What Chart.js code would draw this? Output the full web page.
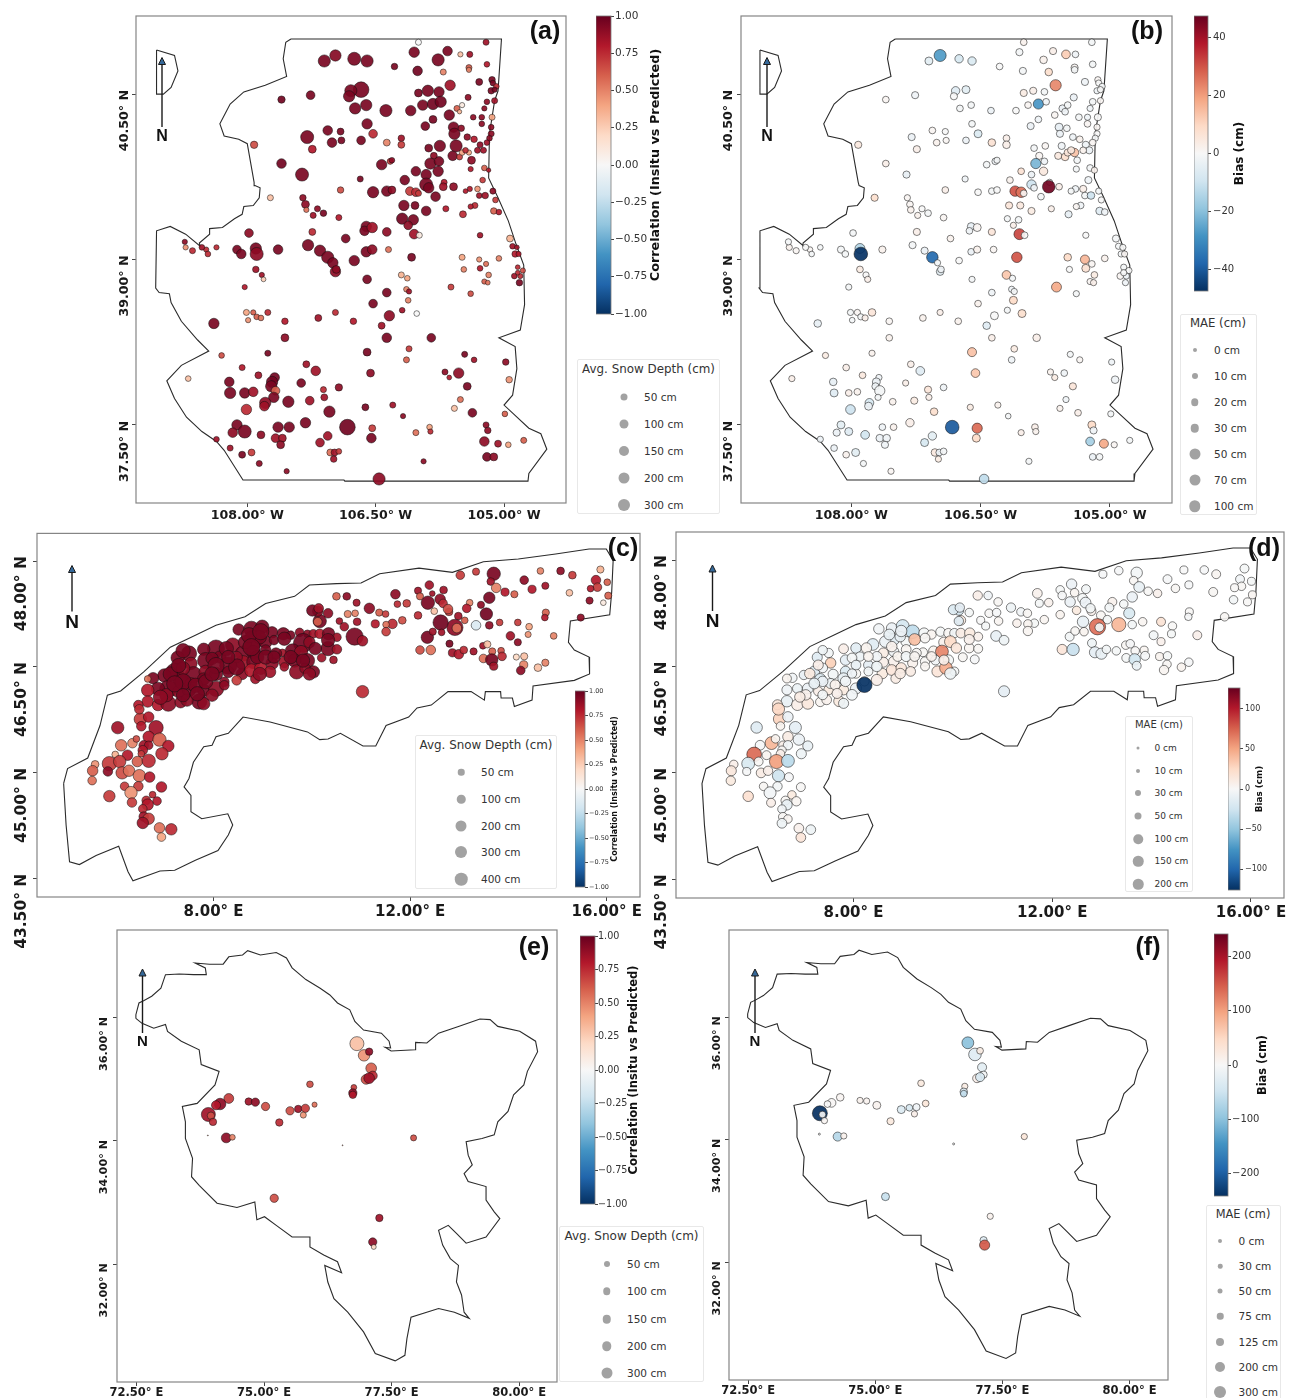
<!DOCTYPE html>
<html>
<head>
<meta charset="utf-8">
<script src="https://cdn.jsdelivr.net/npm/chart.js@4"></script>
<style>
html,body{margin:0;padding:0;background:#fff;}
#page{position:relative;width:1290px;height:1398px;overflow:hidden;font-family:"DejaVu Sans",sans-serif;}
#page canvas{position:absolute;}
.lg{position:absolute;background:#fff;border:1px solid #e8e8e8;border-radius:2px;box-sizing:border-box;}
.lgt{position:absolute;white-space:nowrap;color:#333;transform:translate(-50%,-50%);}
.lgl{position:absolute;white-space:nowrap;color:#333;transform:translateY(-50%);}
.lgm{position:absolute;border-radius:50%;background:#a2a2a2;transform:translate(-50%,-50%);}
</style>
</head>
<body>
<div id="page"></div>
<script>
// stations: lon, lat, avg snow depth (cm), correlation, MAE (cm), bias (cm)
const coloradoStations = [
[-106.00,40.97,40,0,10,2],[-105.21,40.97,40,.85,10,-1],[-106.97,40.85,139,.92,45,-27],[-107.10,40.80,161,.95,16,-5],[-106.75,40.82,185,.95,18,-8],[-106.60,40.80,161,.95,18,-7],
[-106.28,40.75,46,.95,10,0],[-106.05,40.88,118,.95,12,-1],[-106.01,40.71,100,.97,12,-1],[-105.66,40.89,100,.95,12,3],[-105.77,40.81,161,.95,14,2],[-105.51,40.86,30,.3,20,12],
[-105.40,40.86,40,.85,10,-2],[-105.20,40.77,35,.8,10,-1],[-105.41,40.74,40,.6,12,1],[-105.41,40.72,30,.5,10,-1],[-105.71,40.70,40,.5,14,8],[-105.63,40.58,118,.85,38,23],
[-105.29,40.61,52,.95,12,-2],[-105.14,40.63,46,.95,8,1],[-105.13,40.60,35,.95,8,0],[-105.09,40.57,35,.75,8,-1],[-105.15,40.53,46,.95,8,-2],[-105.11,40.54,30,.95,8,0],
[-105.11,40.44,40,.85,8,1],[-105.20,40.43,35,.9,10,-1],[-105.42,40.47,40,.9,12,-3],[-105.89,40.53,139,.95,12,3],[-106.00,40.51,67,.95,12,4],[-105.76,40.52,118,.95,10,-1],
[-106.67,40.54,266,.95,16,-5],[-106.79,40.53,161,.95,18,-6],[-106.81,40.48,139,.95,12,0],[-107.26,40.49,82,.95,12,-2],[-107.60,40.45,59,.97,10,1],[-106.74,40.37,139,.95,10,-1],
[-106.61,40.40,139,.95,10,-1],[-106.38,40.35,161,.95,10,-3],[-106.09,40.35,118,.95,10,0],[-105.95,40.40,118,.95,10,1],[-105.83,40.41,139,.97,30,-28],[-105.74,40.43,139,.97,10,-2],
[-105.64,40.31,118,.95,10,1],[-105.83,40.27,67,.95,10,-2],[-106.60,40.23,118,.95,10,-1],[-105.92,40.21,82,.95,12,-3],[-105.59,40.20,118,.95,16,-4],[-105.50,40.19,46,.9,10,-1],
[-105.58,40.14,139,.95,12,-3],[-107.30,40.11,185,.95,12,-3],[-107.06,40.17,100,.95,10,1],[-106.91,40.16,52,.95,8,0],[-107.01,40.06,100,.95,10,2],[-106.90,40.08,52,.95,8,1],
[-106.67,40.08,82,.95,10,-3],[-106.53,40.14,82,.75,16,-7],[-106.37,40.06,52,.5,14,7],[-106.20,40.10,46,.85,10,3],[-106.20,40.04,52,.7,14,3],[-107.92,40.04,59,.65,12,5],
[-107.24,40.00,67,.8,12,3],[-105.88,40.01,67,.95,10,-1],[-105.75,40.03,139,.95,10,1],[-105.56,40.03,161,.95,12,-2],[-105.43,40.11,46,.9,10,-2],[-105.35,40.09,46,.8,10,2],
[-105.28,40.04,40,.9,12,-2],[-105.15,40.14,40,.9,8,0],[-105.17,40.10,35,.9,8,-1],[-105.20,40.06,35,.85,10,1],[-105.24,39.99,40,.85,12,-3],[-105.26,40.29,35,.9,8,-2],
[-105.36,40.29,35,.9,10,-1],[-105.26,40.23,35,.9,10,1],[-105.55,40.37,40,.6,12,-3],[-105.49,40.40,30,.1,10,-1],[-105.52,40.34,21,.35,10,-2],[-105.14,40.29,40,.4,12,0],
[-105.23,40.37,30,.9,8,-2],[-105.15,40.20,35,.9,8,1],[-105.60,39.94,100,.95,12,5],[-105.52,39.93,40,.7,14,8],[-105.49,39.97,35,.4,12,6],[-105.41,39.97,30,.4,18,14],
[-105.45,39.99,35,.75,12,5],[-105.31,39.99,40,.85,10,2],[-105.38,39.90,67,.9,10,-1],[-107.60,39.87,100,.97,10,3],[-106.43,39.86,118,.95,10,-1],[-106.33,39.89,40,.7,10,-2],
[-106.31,39.90,35,.9,8,-1],[-105.82,39.94,52,.9,12,1],[-105.86,39.87,139,.95,30,-22],[-105.76,39.89,100,.95,10,-2],[-107.36,39.77,185,.95,12,-4],[-105.77,39.80,118,.95,18,5],
[-106.03,39.80,100,.95,10,7],[-105.91,39.77,118,.95,10,-3],[-105.39,39.82,30,.8,8,-1],[-105.23,39.83,35,.6,10,-1],[-105.18,39.81,21,.8,8,2],[-106.68,39.73,40,.95,8,-2],
[-106.16,39.72,100,.95,10,2],[-105.91,39.68,185,.95,24,-10],[-105.88,39.65,118,.95,10,-2],[-105.70,39.70,40,.8,8,1],[-105.71,39.66,67,.85,50,46],[-105.59,39.66,67,.9,10,3],
[-105.25,39.72,35,.7,12,-2],[-105.31,39.64,35,.45,12,3],[-105.40,39.64,30,.8,10,-2],[-105.45,39.62,25,.8,8,-1],[-105.13,39.62,40,.9,8,-1],[-105.29,39.58,35,.85,10,-1],
[-105.22,39.58,46,.85,14,-10],[-105.10,39.54,35,.7,8,0],[-105.34,39.49,40,.75,10,-2],[-105.39,39.48,30,.8,8,1],[-105.12,39.44,46,.6,14,-6],[-105.06,39.43,35,.8,10,-2],
[-105.48,39.41,52,.75,12,-4],[-105.68,39.46,40,.8,8,3],[-105.91,39.44,100,.95,12,4],[-106.17,39.49,118,.95,12,6],[-106.04,39.49,67,.95,12,5],[-105.80,39.57,100,.95,10,-1],
[-106.10,39.62,82,.7,32,30],[-106.03,39.61,82,.75,32,26],[-106.00,39.60,40,.7,10,1],[-106.53,39.61,139,.95,10,0],[-106.37,39.62,118,.95,10,-1],[-106.31,39.63,67,.9,10,0],
[-106.91,39.63,46,.65,10,3],[-107.73,39.56,40,.3,12,8],[-107.35,39.56,46,.9,8,1],[-107.32,39.50,67,.9,10,1],[-107.31,39.45,30,.55,10,2],[-107.18,39.46,40,.9,8,0],
[-107.11,39.42,46,.95,10,-1],[-107.23,39.40,40,.85,8,2],[-106.93,39.38,40,.8,10,1],[-106.61,39.30,118,.95,14,-4],[-106.63,39.26,100,.95,10,-2],[-106.54,39.29,118,.85,16,1],
[-106.19,39.37,139,.97,8,-1],[-106.06,39.36,118,.95,10,-1],[-106.12,39.31,82,.9,8,3],[-106.37,39.25,82,.9,12,6],[-106.05,39.23,100,.85,36,32],[-105.99,39.22,40,.1,10,0],
[-105.28,39.22,35,.85,8,0],[-104.93,39.19,52,.35,12,-1],[-104.90,39.12,35,.85,8,-1],[-104.85,39.11,25,.85,8,0],[-104.87,39.05,46,.8,8,-1],[-104.83,39.05,30,.8,8,1],
[-107.98,39.24,82,.9,10,-1],[-107.24,39.25,52,.75,12,3],[-106.85,39.19,82,.95,10,2],[-107.29,39.13,139,.95,12,-1],[-107.15,39.08,139,.95,12,-3],[-107.06,39.02,161,.95,40,-37],
[-107.00,38.97,118,.95,8,-1],[-106.97,38.89,118,.9,14,-5],[-106.96,38.91,67,.9,10,-2],[-106.75,38.99,118,.95,10,0],[-106.61,39.07,118,.95,10,-3],[-106.54,39.09,100,.9,12,2],
[-106.35,39.09,40,.55,10,1],[-106.08,39.02,67,.95,32,30],[-105.49,39.02,40,.4,14,9],[-105.29,39.00,30,.45,22,16],[-105.21,38.96,30,.55,10,1],[-105.06,39.01,35,.5,10,2],
[-105.47,38.91,35,.5,8,0],[-105.28,38.92,35,.8,16,7],[-105.18,38.86,35,.5,10,4],[-105.23,38.80,30,.6,8,1],[-105.19,38.79,25,.55,8,3],[-104.84,38.93,25,.75,8,-1],
[-104.78,38.90,30,.65,8,0],[-104.88,38.85,35,.85,10,1],[-104.81,38.85,30,.75,8,-2],[-104.82,38.79,46,.95,8,-2],[-104.84,38.88,25,.75,8,0],[-105.62,38.75,40,.7,28,18],
[-105.39,38.69,35,.65,8,-1],[-107.90,39.10,139,.95,28,-14],[-107.89,39.05,185,.9,60,-47],[-108.12,39.09,82,.95,12,-1],[-108.07,39.05,100,.95,10,-1],[-107.64,39.09,100,.95,12,2],
[-108.36,39.11,30,.75,6,-1],[-108.48,39.09,30,.75,6,1],[-108.46,39.05,35,.75,6,-1],[-108.53,39.11,35,.85,8,0],[-108.64,39.08,40,.75,8,1],[-108.72,39.11,30,.45,8,2],
[-108.73,39.16,30,.9,8,-1],[-107.90,38.91,46,.85,10,4],[-107.83,38.86,30,.85,8,0],[-107.81,38.82,25,.25,8,3],[-108.03,38.75,30,.8,8,-1],[-106.60,38.82,82,.95,8,-1],
[-106.37,38.70,82,.95,10,-2],[-106.20,38.86,40,.35,20,13],[-106.13,38.83,35,.4,8,-1],[-106.14,38.73,35,.5,8,-2],[-106.11,38.71,30,.85,8,-1],[-106.12,38.63,35,.5,16,9],
[-106.53,38.60,82,.95,10,2],[-106.02,38.51,35,0,16,8],[-106.19,38.54,35,.85,8,-1],[-106.34,38.49,118,.9,16,0],[-106.43,38.40,52,.85,14,-6],[-106.37,38.29,100,.95,10,3],
[-105.85,38.29,82,.95,14,3],[-106.97,38.52,40,.75,8,3],[-106.76,38.44,46,.8,10,2],[-107.17,38.47,52,.85,10,2],[-107.76,38.52,40,.75,14,6],[-108.01,38.52,40,.4,8,-1],
[-107.93,38.52,30,.6,8,1],[-107.89,38.48,35,.6,8,-1],[-107.84,38.47,35,.55,8,3],[-107.99,38.45,30,.45,6,-1],[-107.56,38.44,46,.8,10,1],[-107.56,38.29,67,.9,10,2],
[-108.39,38.42,118,.95,14,-4],[-107.76,38.15,40,.95,8,2],[-108.30,38.13,35,.65,8,4],[-106.60,38.16,67,.95,22,14],[-106.11,38.19,40,.7,10,4],[-106.14,38.09,40,.6,10,-2],
[-105.46,38.14,40,.95,8,-1],[-105.35,38.09,35,.85,8,1],[-104.98,38.07,46,.9,8,-2],[-107.31,38.05,52,.85,10,3],[-108.06,38.02,40,.8,10,3],[-107.20,37.99,100,.85,20,-6],
[-106.56,37.97,67,.9,20,13],[-105.69,37.98,40,.9,8,2],[-105.53,37.97,118,.9,10,-2],[-105.64,37.93,25,.8,8,4],[-107.87,37.95,52,.85,10,5],[-107.68,37.93,100,.97,8,-2],
[-107.71,37.89,139,.97,16,-3],[-107.72,37.85,139,.95,12,-2],[-108.21,37.89,100,.95,14,-4],[-107.37,37.88,82,.95,8,3],[-104.94,37.91,46,.45,14,-2],[-105.43,37.85,67,.95,12,6],
[-106.93,37.84,59,.9,10,-2],[-107.11,37.82,40,.75,12,6],[-107.67,37.81,82,.6,30,-1],[-108.20,37.79,139,.95,16,-6],[-108.03,37.79,118,.95,10,3],[-107.93,37.80,100,.85,10,2],
[-107.69,37.75,118,.95,8,-1],[-107.79,37.70,139,.9,20,-8],[-107.80,37.67,100,.85,16,-3],[-107.52,37.71,139,.95,10,2],[-107.27,37.72,82,.85,12,4],[-107.10,37.75,52,.85,8,3],
[-105.51,37.73,40,.55,8,-2],[-105.58,37.65,40,.3,8,2],[-105.37,37.61,82,.95,10,3],[-104.99,37.60,35,.6,8,-1],[-108.01,37.64,118,.75,26,-10],[-107.04,37.62,139,.95,14,8],
[-106.62,37.66,52,.95,8,4],[-106.30,37.68,40,.85,8,2],[-106.18,37.58,30,.9,6,-1],[-108.12,37.50,118,.95,16,-5],[-108.17,37.43,100,.9,12,-3],[-108.03,37.44,185,.95,16,-6],
[-107.84,37.41,67,.9,20,-9],[-107.64,37.48,118,.95,10,-2],[-107.51,37.48,118,.95,10,2],[-107.32,37.52,118,.95,18,3],[-106.83,37.48,266,.97,60,-40],[-106.54,37.47,52,.7,30,27],
[-106.55,37.38,100,.95,16,9],[-107.06,37.40,82,.85,18,-5],[-107.15,37.34,82,.85,16,-8],[-107.67,37.38,82,.85,14,-3],[-107.59,37.38,67,.85,14,-2],[-107.61,37.32,67,.9,12,-2],
[-108.36,37.37,35,.85,8,-3],[-108.20,37.29,40,.85,10,-3],[-108.06,37.23,52,.95,10,2],[-107.95,37.25,52,.7,16,-5],[-107.86,37.15,40,.9,8,-1],[-107.54,37.08,30,.9,8,1],
[-106.03,37.43,40,.55,8,3],[-105.87,37.48,35,.4,10,3],[-105.86,37.44,30,.75,8,2],[-105.94,37.17,30,.9,8,-1],[-107.03,37.25,52,.55,14,5],[-106.98,37.25,52,.85,10,-3],
[-106.93,37.26,35,.7,10,-1],[-106.99,37.19,46,.85,8,4],[-106.46,37.01,161,.9,25,-12],[-105.21,37.50,40,.9,16,9],[-105.19,37.45,46,.9,12,-2],[-105.23,37.35,100,.9,20,-16],
[-105.07,37.33,52,.85,22,18],[-104.95,37.32,35,.4,8,1],[-104.77,37.36,40,.6,8,-1],[-105.20,37.21,82,.95,10,-3],[-105.12,37.21,67,.9,10,-1],[-108.69,37.92,35,.3,8,3]
];
const alpsStations = [
[13.70,47.82,166,.95,30,-3],[13.34,47.85,48,.7,14,-1],[13.02,47.80,69,.7,12,-1],[13.64,47.71,55,.85,14,2],[13.75,47.62,85,.5,26,-10],[13.93,47.56,62,.8,14,1],
[14.12,47.53,48,.6,14,6],[14.32,47.73,69,.9,16,-1],[14.48,47.60,62,.8,14,2],[14.65,47.86,42,.5,12,0],[14.75,47.65,48,.85,12,-1],[15.06,47.86,55,.9,14,-1],
[15.30,47.80,55,.7,16,3],[15.87,47.88,48,.35,16,-2],[15.78,47.73,85,.8,16,-4],[15.81,47.63,69,.7,14,2],[16.01,47.70,42,.6,12,-2],[15.67,47.61,42,.8,12,1],
[16.03,47.51,48,.6,12,3],[15.65,47.44,48,.9,14,-3],[15.93,47.41,30,.1,12,1],[15.24,47.55,42,.3,16,2],[15.47,47.20,48,.9,14,2],[14.76,47.27,48,.6,12,1],
[14.74,47.20,42,.8,10,-1],[14.42,47.07,42,.4,14,1],[14.19,47.13,42,.7,16,18],[14.40,46.96,35,.45,12,-2],[14.92,46.94,42,.5,16,7],[14.04,46.94,69,.85,16,-3],
[14.19,46.85,48,.9,12,6],[13.61,47.48,122,.95,24,-8],[13.44,47.38,48,.9,14,-2],[13.55,47.25,143,.97,28,-20],[13.61,47.09,55,.9,14,-3],[13.82,47.13,42,.7,14,3],
[13.21,47.41,42,.5,16,5],[13.15,47.33,69,.8,16,-3],[12.98,47.22,55,.85,16,2],[13.11,47.16,42,.6,14,-2],[13.34,47.09,85,-.15,50,42],[12.91,47.06,245,.9,70,70],
[12.95,47.05,85,.55,16,-3],[12.79,47.28,55,.7,16,6],[12.62,47.13,217,.97,30,-10],[12.36,47.41,166,.95,24,-8],[12.49,47.29,42,.3,14,12],[12.61,47.46,103,.9,20,-2],
[12.67,47.40,69,.75,26,-8],[12.77,47.32,85,.65,18,-3],[12.39,47.66,69,.85,24,-8],[12.16,47.58,48,.85,14,-2],[12.45,47.54,30,.85,14,3],[12.68,47.59,55,.85,16,-3],
[12.20,47.50,48,.6,14,-1],[11.70,47.53,85,.9,20,5],[11.74,47.39,42,.75,12,-2],[11.93,47.40,55,.7,14,5],[12.16,47.23,55,.75,14,4],[11.84,47.16,55,.65,14,3],
[11.64,47.11,85,.75,14,-2],[11.51,47.10,42,.55,14,4],[11.51,47.00,69,.7,18,3],[11.29,47.11,62,.8,14,5],[11.37,47.27,48,.6,14,-4],[11.50,47.25,42,.7,14,2],
[11.17,47.33,103,.9,18,-6],[10.91,47.41,48,.85,14,2],[10.71,47.50,55,.9,14,-5],[10.50,47.50,55,.6,18,8],[10.73,47.25,48,.5,14,1],[10.88,47.26,42,.5,14,-1],
[10.92,47.14,55,.85,14,3],[10.56,47.15,42,.85,12,0],[10.66,47.07,69,.85,12,-2],[10.87,46.93,275,.95,26,-10],[11.03,46.87,103,.85,20,-6],[11.03,46.15,143,.75,28,-12],
[12.35,46.92,143,.95,16,-3],[12.20,46.74,69,.65,22,16],[12.42,46.74,85,.55,36,-28],[12.46,47.00,48,.85,14,2],[12.64,46.99,42,.85,14,4],[12.80,46.83,48,.95,16,-6],
[12.86,46.70,62,.85,28,-12],[12.99,46.68,85,.8,28,-10],[13.09,46.74,55,.75,14,-3],[13.29,46.72,48,.85,14,-2],[13.48,46.80,42,.85,14,2],[13.57,46.82,48,.3,14,-1],
[13.67,46.72,48,.6,14,1],[13.49,46.62,69,.55,16,-2],[13.66,46.60,143,.95,30,-24],[13.85,46.73,42,.65,12,3],[13.87,46.65,69,.75,16,-1],[13.70,46.51,62,.85,16,-9],
[14.16,46.64,35,.2,12,4],[14.32,46.65,48,.3,14,-2],[14.31,46.53,62,.5,14,2],[14.25,46.45,69,.9,18,3],[14.60,46.49,55,.3,14,4],[14.75,46.56,48,.5,14,-1],
[8.51,47.03,122,.95,24,-4],[8.77,47.04,217,.95,26,-8],[8.99,47.07,166,.95,40,-22],[9.19,46.99,122,.95,46,-32],[9.42,46.97,143,.95,24,-2],[9.57,46.95,69,.95,18,3],
[9.75,46.99,69,.9,18,-2],[9.91,46.97,55,.9,18,2],[10.03,46.97,69,.85,18,-3],[10.16,46.97,85,.8,20,10],[10.34,46.97,143,.95,24,12],[10.51,46.92,69,.85,16,5],
[10.16,47.15,166,.95,20,12],[10.12,47.29,103,.9,20,-22],[10.01,47.30,122,.95,22,-18],[10.14,47.33,85,.85,18,-12],[10.33,47.26,85,.9,14,-2],[10.12,47.14,69,.6,18,-16],
[8.81,46.88,340,.95,30,-14],[9.06,46.85,143,.95,24,-2],[9.23,46.88,85,.95,32,38],[9.44,46.90,166,.95,20,2],[9.82,46.84,340,.97,24,5],[9.95,46.85,122,.9,32,24],
[10.33,46.76,191,.95,20,3],[10.51,46.75,85,.85,16,2],[8.39,46.81,191,.9,32,-16],[8.05,46.76,275,.95,24,-14],[7.80,46.75,143,.95,20,8],[8.60,46.69,217,.95,22,10],
[8.81,46.71,166,.95,22,-4],[9.06,46.74,103,.95,20,3],[9.61,46.72,217,.97,20,4],[9.78,46.71,166,.9,40,62],[10.07,46.76,143,.95,24,15],[9.40,46.70,55,.85,16,2],
[7.50,46.69,217,.95,18,-3],[7.27,46.63,166,.95,22,-16],[7.84,46.59,245,.95,24,-12],[7.54,46.55,143,.9,24,30],[8.13,46.64,143,.95,18,-6],[8.60,46.56,191,.85,22,8],
[8.30,46.52,275,.95,20,-12],[8.81,46.57,166,.95,24,6],[9.19,46.55,143,.9,22,5],[9.44,46.57,122,.85,18,2],[9.65,46.59,166,.95,20,-4],[9.91,46.59,191,.95,24,-2],
[10.20,46.63,69,.85,16,2],[10.44,46.60,55,.85,16,-1],[7.21,46.43,275,.95,26,-16],[7.00,46.38,166,.95,18,-10],[7.59,46.39,245,.95,22,-3],[7.84,46.43,166,.9,24,-18],
[8.05,46.40,166,.95,18,2],[8.30,46.43,122,.95,16,-3],[8.58,46.40,122,.9,24,12],[8.77,46.45,166,.8,26,16],[8.96,46.48,143,.8,24,14],[9.15,46.43,122,.85,20,10],
[9.44,46.50,69,.85,16,3],[9.69,46.43,191,.9,28,16],[10.03,46.43,143,.95,16,-2],[9.86,46.48,103,.9,38,46],[6.77,46.34,122,.95,18,-4],[6.66,46.33,42,.55,16,4],
[7.33,46.32,217,.95,30,-18],[7.08,46.19,275,.95,26,-8],[6.87,46.19,166,.95,20,-7],[6.66,46.17,143,.8,22,-5],[7.29,46.15,143,.9,18,8],[7.50,46.17,166,.95,20,12],
[7.80,46.17,143,.95,22,12],[8.05,46.19,217,.9,28,-8],[8.22,46.29,85,.9,18,-2],[8.47,46.31,85,.7,28,8],[8.85,46.33,85,.85,20,10],[6.66,46.01,122,.8,30,-10],
[6.87,45.96,122,.8,30,8],[7.08,45.98,217,.9,32,14],[7.33,46.00,122,.9,18,3],[7.71,46.01,217,.95,26,12],[7.46,46.03,143,.9,20,5],[7.80,45.98,143,.9,22,-6],
[7.97,46.10,143,.9,26,-4],[6.47,45.96,85,.8,22,14],[6.51,45.76,143,.7,35,28],[6.68,45.79,103,.8,24,-8],[6.49,45.90,85,.75,35,26],[6.53,45.66,85,.8,14,4],
[8.22,46.24,85,.9,60,-125],[8.94,46.92,166,.95,24,-10],[8.64,46.85,166,.95,30,-8],[9.27,46.69,122,.95,18,2],[8.89,46.64,166,.95,20,4],[8.47,46.64,122,.9,22,-4],
[7.97,46.62,143,.95,20,-2],[7.38,46.48,166,.9,20,-4],[7.80,46.33,143,.95,30,-10],[7.12,46.40,191,.95,24,12],[7.04,46.10,166,.9,24,6],[7.54,46.26,143,.9,22,-5],
[7.38,46.73,191,.95,18,-6],[8.26,46.76,191,.95,24,4],[8.72,46.95,217,.95,26,-10],[8.96,47.00,245,.95,30,-8],[8.77,46.78,275,.95,24,5],[9.06,46.64,191,.95,22,-3],
[9.57,46.64,166,.95,20,5],[9.82,46.59,166,.95,22,8],[10.33,46.88,166,.95,22,6],[8.47,46.50,245,.95,24,-6],[8.05,46.52,245,.95,20,-10],[7.38,46.29,245,.95,24,-8],
[7.63,46.24,191,.95,22,5],[7.84,46.29,191,.95,24,-4],[7.21,46.26,245,.95,26,-10],[6.92,46.07,191,.9,24,10],[7.38,46.10,166,.95,20,-3],[7.67,46.12,191,.95,22,7],
[7.97,46.40,191,.95,18,-5],[8.30,46.64,166,.95,20,4],[9.23,46.64,143,.95,20,3],[8.94,46.40,166,.9,24,10],[9.95,46.40,143,.9,30,-6],[7.29,46.52,191,.95,22,8],
[6.05,45.64,143,.85,30,-16],[6.83,45.64,191,.85,34,-12],[6.68,45.51,122,.8,24,10],[6.90,45.47,166,.6,30,-8],[7.08,45.38,122,.8,22,-10],[6.35,45.42,85,.5,40,42],
[6.12,45.39,122,.55,20,-1],[6.58,45.39,85,.85,14,8],[6.68,45.39,69,.85,18,-4],[6.43,45.48,42,.65,14,4],[6.56,45.32,85,.8,14,2],[6.95,45.27,143,.75,22,-6],
[6.25,45.25,103,.8,16,4],[6.00,45.26,42,.35,55,72],[6.53,45.27,42,.7,14,8],[5.88,45.13,191,.7,40,-20],[6.09,45.16,143,.7,16,2],[6.45,45.16,103,.6,50,52],
[6.68,45.17,166,.75,40,-34],[5.85,45.02,85,.9,12,-1],[5.59,45.12,55,.45,14,8],[5.54,45.03,103,.6,22,14],[6.14,45.00,143,.65,20,10],[6.28,45.03,122,.55,18,8],
[6.49,44.96,143,.55,35,-26],[6.70,44.94,103,.8,16,-1],[5.53,44.89,69,.55,18,12],[6.19,44.81,69,.7,14,2],[6.47,44.81,85,.7,18,-3],[6.94,44.80,103,.8,16,1],
[6.32,44.72,143,.45,34,-4],[5.88,44.67,122,.7,24,20],[6.76,44.69,42,.75,14,12],[6.85,44.60,69,.8,18,3],[6.63,44.61,69,.75,16,2],[6.66,44.55,122,.8,24,-10],
[6.34,44.58,85,.7,16,8],[6.56,44.49,69,.75,14,-4],[6.58,44.38,85,.85,16,2],[6.68,44.35,122,.7,14,3],[6.56,44.29,122,.85,20,-6],[6.90,44.22,103,.55,20,6],
[7.14,44.20,122,.75,20,-6],[6.94,44.09,69,.4,20,16]
];
const kashmirStations = [
[76.82,35.58,223,.3,43,-100],[76.96,35.39,150,.45,50,-30],[77.06,35.45,62,.9,10,20],[77.10,35.18,130,.6,22,-25],[77.13,35.06,94,.75,12,-5],[77.00,35.00,110,.65,20,15],
[77.06,35.02,130,.85,22,-40],[75.90,34.92,50,.65,10,25],[76.76,34.87,38,.7,8,20],[76.74,34.78,78,.9,14,-30],[76.74,34.75,62,.8,10,-60],[74.31,34.69,110,.7,14,5],
[74.14,34.60,150,.9,20,3],[74.06,34.58,94,.8,10,0],[74.70,34.64,62,.85,8,10],[74.83,34.63,78,.9,8,8],[75.03,34.56,78,.65,16,8],[75.51,34.49,78,.65,16,-35],
[75.67,34.52,62,.85,10,-40],[75.81,34.53,78,.7,12,-10],[75.99,34.59,30,.55,10,30],[75.77,34.42,42,.45,8,15],[73.91,34.43,223,.85,75,-242],[73.96,34.41,62,.65,10,-5],
[74.00,34.31,62,.75,8,5],[75.30,34.30,62,.75,12,25],[74.26,34.05,110,.9,22,-70],[74.38,34.06,38,.5,8,10],[77.93,34.05,42,.65,8,30],[75.20,33.07,78,.65,16,-55],
[77.26,32.75,62,.85,8,10],[77.13,32.36,78,.9,12,-30],[77.15,32.28,28,.2,30,150],[73.90,34.09,1,.5,0,0],[76.54,33.93,1,.5,0,0]
];

const coloradoIsland = [[-109.06,40.90],[-108.85,40.85],[-108.81,40.71],[-108.89,40.56],[-108.98,40.50],[-109.06,40.50],[-109.06,40.90]];
const coloradoBorder = [[-107.49,41.00],[-105.03,41.00],[-105.07,40.53],[-105.11,40.44],[-105.17,40.14],[-105.18,39.74],[-105.07,39.56],[-104.95,39.35],[-104.86,39.14],[-104.77,38.95],[-104.76,38.59],[-104.81,38.36],[-105.06,38.29],[-104.87,38.21],[-104.85,38.01],[-104.90,37.77],[-105.00,37.68],[-104.71,37.47],[-104.57,37.42],[-104.50,37.28],[-104.71,37.06],[-104.72,36.99],[-106.86,36.99],[-106.87,37.00],[-108.05,37.00],[-108.27,37.27],[-108.36,37.35],[-108.53,37.44],[-108.71,37.57],[-108.85,37.74],[-108.94,37.90],[-108.77,38.04],[-108.45,38.17],[-108.58,38.27],[-108.77,38.44],[-108.89,38.61],[-108.91,38.69],[-109.03,38.70],[-109.07,38.74],[-109.06,39.26],[-108.90,39.30],[-108.72,39.23],[-108.55,39.12],[-108.56,39.15],[-108.44,39.23],[-108.44,39.28],[-108.29,39.29],[-108.15,39.37],[-108.06,39.41],[-108.04,39.48],[-107.93,39.49],[-107.86,39.56],[-107.85,39.65],[-107.91,39.67],[-107.92,39.70],[-107.95,39.83],[-108.00,40.05],[-108.10,40.09],[-108.27,40.12],[-108.32,40.23],[-108.20,40.41],[-108.04,40.52],[-107.79,40.58],[-107.54,40.66],[-107.58,40.82],[-107.55,40.97],[-107.49,41.00]];
const alpsBorder = [[4.95,44.85],[5.03,45.06],[5.44,45.21],[5.69,45.67],[5.84,46.10],[6.11,46.16],[6.58,46.43],[7.12,46.78],[7.63,46.95],[8.05,47.09],[8.64,47.21],[9.06,47.40],[9.65,47.50],[9.95,47.66],[10.50,47.68],[11.00,47.69],[11.38,47.82],[12.18,47.90],[12.86,47.84],[13.49,47.99],[14.20,48.03],[14.96,48.10],[15.64,48.17],[15.99,48.17],[16.13,48.01],[16.10,47.56],[16.06,47.24],[15.26,47.15],[15.22,46.85],[15.34,46.74],[15.64,46.64],[15.65,46.40],[15.34,46.31],[14.50,46.23],[14.48,46.03],[14.12,45.94],[14.08,46.06],[13.85,46.06],[13.84,46.15],[13.53,46.15],[13.51,46.03],[13.24,46.15],[12.77,46.15],[12.43,45.96],[12.14,45.92],[11.97,45.79],[11.51,45.67],[11.30,45.38],[11.04,45.38],[10.58,45.56],[10.33,45.48],[10.16,45.47],[9.91,45.58],[9.15,45.72],[8.60,45.79],[8.30,45.56],[8.05,45.51],[7.97,45.39],[7.80,45.37],[7.59,45.15],[7.50,44.92],[7.40,44.80],[7.54,44.68],[7.54,44.45],[7.76,44.35],[8.29,44.42],[8.39,44.26],[8.30,44.12],[8.09,43.90],[7.63,43.76],[7.21,43.62],[6.91,43.61],[6.36,43.47],[6.26,43.60],[6.07,43.96],[5.61,43.83],[5.27,43.70],[5.07,43.74],[5.00,44.26],[4.95,44.85]];
const kashmirBorder = [[72.49,35.99],[72.49,36.05],[72.55,36.24],[72.65,36.28],[72.80,36.35],[72.98,36.48],[73.07,36.70],[73.34,36.71],[73.62,36.70],[73.87,36.70],[73.85,36.81],[73.65,36.89],[73.93,36.87],[74.20,36.87],[74.31,36.99],[74.58,37.02],[74.68,37.09],[74.93,37.02],[75.24,37.06],[75.44,36.97],[75.55,36.81],[75.82,36.62],[76.10,36.48],[76.29,36.37],[76.44,36.24],[76.68,36.13],[76.78,35.94],[76.95,35.80],[77.30,35.75],[77.45,35.62],[77.48,35.51],[77.37,35.52],[77.49,35.46],[77.96,35.48],[77.97,35.60],[78.19,35.59],[78.42,35.75],[78.81,35.86],[79.23,35.98],[79.43,35.97],[79.58,35.86],[80.01,35.78],[80.32,35.62],[80.36,35.45],[80.16,35.13],[80.09,34.91],[79.89,34.75],[79.78,34.48],[79.58,34.31],[79.51,34.10],[79.27,34.04],[78.96,33.99],[79.00,33.77],[79.08,33.61],[78.92,33.47],[79.00,33.34],[79.35,33.26],[79.35,33.04],[79.51,32.85],[79.62,32.74],[79.35,32.44],[78.96,32.34],[78.77,32.50],[78.61,32.63],[78.42,32.55],[78.50,32.31],[78.65,32.09],[78.81,31.98],[78.77,31.71],[78.87,31.50],[78.92,31.22],[79.02,31.12],[78.73,31.22],[78.42,31.28],[77.88,31.14],[77.80,30.79],[77.76,30.52],[77.57,30.43],[77.18,30.55],[76.95,30.90],[76.64,31.22],[76.37,31.44],[76.25,31.71],[76.19,31.98],[76.52,31.86],[76.44,32.04],[76.17,32.15],[75.90,32.28],[75.90,32.44],[75.55,32.44],[75.24,32.63],[75.01,32.77],[74.86,32.72],[74.82,33.01],[74.47,32.92],[74.08,32.99],[73.73,33.28],[73.58,33.42],[73.60,33.72],[73.46,34.04],[73.46,34.31],[73.40,34.56],[73.69,34.61],[74.04,34.91],[74.12,35.13],[73.77,35.24],[73.73,35.48],[73.38,35.62],[73.11,35.78],[73.07,35.89],[72.84,35.83],[72.61,35.91],[72.49,35.99]];

const coloradoLonTicks = [-108,-106.5,-105];
const coloradoLatTicks = [37.5,39,40.5];
const alpsLonTicks = [8,12,16];
const alpsLatTicks = [43.5,45,46.5,48];
const kashmirLonTicks = [72.5,75,77.5,80];
const kashmirLatTicks = [32,34,36];

const corrTicks = [-1,-.75,-.5,-.25,0,.25,.5,.75,1];
const biasTicksB = [-40,-20,0,20,40];
const biasTicksD = [-100,-50,0,50,100];
const biasTicksF = [-200,-100,0,100,200];

const depthLegendA = ["50 cm","100 cm","150 cm","200 cm","300 cm"];
const maeLegendB = ["0 cm","10 cm","20 cm","30 cm","50 cm","70 cm","100 cm"];
const depthLegendC = ["50 cm","100 cm","200 cm","300 cm","400 cm"];
const maeLegendD = ["0 cm","10 cm","30 cm","50 cm","100 cm","150 cm","200 cm"];
const depthLegendE = ["50 cm","100 cm","150 cm","200 cm","300 cm"];
const maeLegendF = ["0 cm","30 cm","50 cm","75 cm","125 cm","200 cm","300 cm"];

const rdbu = ["#053061","#2166ac","#4393c3","#92c5de","#d1e5f0","#f7f7f7","#fddbc7","#f4a582","#d6604d","#b2182b","#67001f"];
const FONT = '"DejaVu Sans", sans-serif';
const page = document.getElementById("page");

function hex(c){ return [parseInt(c.slice(1,3),16),parseInt(c.slice(3,5),16),parseInt(c.slice(5,7),16)]; }
function cmap(v,vmax,alpha){
  let t = (Math.max(-1,Math.min(1,v/vmax))+1)/2*10;
  let i = Math.min(9,Math.floor(t)), f = t-i;
  let a = hex(rdbu[i]), b = hex(rdbu[i+1]);
  let c = a.map((x,k)=>Math.round(x+(b[k]-x)*f));
  return `rgba(${c[0]},${c[1]},${c[2]},${alpha})`;
}
function addCanvas(l,t,w,h){
  const c = document.createElement("canvas");
  c.width = w; c.height = h;
  c.style.left = l+"px"; c.style.top = t+"px"; c.style.width = w+"px"; c.style.height = h+"px";
  page.appendChild(c);
  return c;
}
function toPts(a){ return a.map(p=>({x:p[0],y:p[1]})); }

function makeMap(o){
  const m = {l:45,t:10,r:50,b:70}, f = o.frame, axisH = 40;
  const cv = addCanvas(f.l-m.l,f.t-m.t,f.r-f.l+m.l+m.r,f.b-f.t+m.t+m.b);
  const borderSets = o.borders.map(b=>({type:"scatter",data:toPts(b),showLine:true,pointRadius:0,borderColor:"#2b2b2b",borderWidth:1.1,order:2,clip:false}));
  const decor = {id:"decor",afterDraw(ch){
    const c = ch.ctx, a = ch.chartArea, ox = f.l-m.l, oy = f.t-m.t;
    c.save();
    c.strokeStyle = "#858585"; c.lineWidth = 1.2;
    c.strokeRect(a.left,a.top,a.right-a.left,a.bottom-a.top);
    // rotated lat labels, they hang below their tick
    c.fillStyle = "#1a1a1a";
    c.font = `bold ${o.latFont}px ${FONT}`;
    c.textAlign = "right"; c.textBaseline = "middle";
    ch.scales.y.ticks.forEach(t=>{
      c.save();
      c.translate(o.latX-ox,ch.scales.y.getPixelForValue(t.value)-o.latOff);
      c.rotate(-Math.PI/2);
      c.fillText(t.value.toFixed(2)+"° N",0,0);
      c.restore();
    });
    // north arrow
    const ar = o.arrow, ax = ar.x-ox;
    c.strokeStyle = "#1a1a1a"; c.lineWidth = 1.4;
    c.beginPath(); c.moveTo(ax,ar.bottom-oy); c.lineTo(ax,ar.tip-oy+5); c.stroke();
    c.fillStyle = "#35699a"; c.lineWidth = 1;
    c.beginPath(); c.moveTo(ax,ar.tip-oy); c.lineTo(ax-3.5,ar.tip-oy+7); c.lineTo(ax+3.5,ar.tip-oy+7); c.closePath(); c.fill(); c.stroke();
    c.fillStyle = "#111";
    c.font = `bold ${ar.font}px "Liberation Sans", sans-serif`;
    c.textAlign = "center";
    c.fillText("N",ax,ar.n-oy);
    c.font = `bold 25px "Liberation Sans", sans-serif`;
    c.fillText(o.letter.text,o.letter.x-ox,o.letter.y-oy);
    c.restore();
  }};
  new Chart(cv,{
    type:"scatter",
    data:{datasets:[{
      data:toPts(o.rows),
      pointRadius:o.rows.map(o.radius),
      pointBackgroundColor:o.rows.map(o.color),
      pointBorderColor:"rgba(15,15,15,.65)",
      pointBorderWidth:.8,
      order:1
    }].concat(borderSets)},
    options:{
      responsive:false,animation:false,
      layout:{padding:{left:m.l,top:m.t,right:m.r,bottom:m.b-axisH}},
      plugins:{legend:{display:false},tooltip:{enabled:false}},
      scales:{
        x:{type:"linear",min:o.xlim[0],max:o.xlim[1],
          afterBuildTicks:s=>{s.ticks=o.lonTicks.map(v=>({value:v}));},
          afterFit:s=>{s.height=axisH;},
          grid:{drawOnChartArea:false,tickLength:4,color:"#444"},border:{display:false},
          ticks:{autoSkip:false,maxRotation:0,padding:o.lonPad,color:"#1a1a1a",font:{family:FONT,weight:"bold",size:o.lonFont},
            callback:o.lonLabel}},
        y:{type:"linear",min:o.ylim[0],max:o.ylim[1],
          afterBuildTicks:s=>{s.ticks=o.latTicks.map(v=>({value:v}));},
          afterFit:s=>{s.width=0;},
          grid:{drawOnChartArea:false,tickLength:4,color:"#444"},border:{display:false},
          ticks:{display:false}}
      }
    },
    plugins:[decor]
  });
}

function makeColorbar(o){
  const m = {t:8,b:8,r:90}, f = o.bar, axisW = 50;
  const cv = addCanvas(f.l,f.t-m.t,f.r-f.l+m.r,f.b-f.t+m.t+m.b);
  const title = {id:"cbtitle",afterDraw(ch){
    const c = ch.ctx, a = ch.chartArea;
    c.save();
    c.strokeStyle = "#7a7a7a"; c.lineWidth = .8;
    c.strokeRect(a.left,a.top,a.right-a.left,a.bottom-a.top);
    c.fillStyle = "#111";
    c.font = `bold ${o.titleFont}px ${FONT}`;
    c.textAlign = "center"; c.textBaseline = "middle";
    c.translate(o.titleX-f.l,(a.top+a.bottom)/2);
    c.rotate(-Math.PI/2);
    c.fillText(o.title,0,0);
    c.restore();
  }};
  new Chart(cv,{
    type:"bar",
    data:{labels:[""],datasets:[{
      data:[[-o.vmax,o.vmax]],
      barPercentage:1,categoryPercentage:1,borderWidth:0,
      backgroundColor:ctx=>{
        const a = ctx.chart.chartArea;
        if(!a) return "#ccc";
        const g = ctx.chart.ctx.createLinearGradient(0,a.bottom,0,a.top);
        rdbu.forEach((col,i)=>g.addColorStop(i/10,col));
        return g;
      }
    }]},
    options:{
      responsive:false,animation:false,
      layout:{padding:{left:0,top:m.t,bottom:m.b,right:m.r-axisW}},
      plugins:{legend:{display:false},tooltip:{enabled:false}},
      scales:{
        x:{display:false},
        y:{position:"right",min:-o.vmax,max:o.vmax,
          afterBuildTicks:s=>{s.ticks=o.ticks.map(v=>({value:v}));},
          afterFit:s=>{s.width=axisW;},
          grid:{drawOnChartArea:false,tickLength:3,color:"#444"},border:{display:false},
          ticks:{autoSkip:false,padding:o.pad,color:"#333",font:{family:FONT,size:o.font},
            callback:v=>(v<0?"\u2212":"")+Math.abs(v).toFixed(o.dec)}}
      }
    },
    plugins:[title]
  });
}

function makeLegend(o){
  const box = document.createElement("div");
  box.className = "lg";
  box.style.cssText = `left:${o.l}px;top:${o.t}px;width:${o.r-o.l}px;height:${o.b-o.t}px;`;
  page.appendChild(box);
  const add = (cls,x,y,txt,size)=>{
    const d = document.createElement("div");
    d.className = cls;
    d.style.left = x+"px"; d.style.top = y+"px";
    if(txt){ d.textContent = txt; d.style.fontSize = size+"px"; }
    page.appendChild(d);
    return d;
  };
  add("lgt",(o.tx||(o.l+o.r)/2),o.ty,o.title,o.titleFont);
  o.labels.forEach((lab,i)=>{
    const m = add("lgm",o.mx,o.rows[i]);
    m.style.width = m.style.height = o.dia[i]+"px";
    add("lgl",o.lx,o.rows[i],lab,o.font);
  });
}

const depthR = k=>r=>k*Math.sqrt(r[2]);
const maeR = k=>r=>k*(1.5*Math.sqrt(r[4])+2)/2;
const west = v=>Math.abs(v).toFixed(2)+"° W";
const east = v=>v.toFixed(2)+"° E";
const corrC = r=>cmap(r[3],1,.92);
const COLO_Y = [36.792,41.208];

makeMap({frame:{l:136,t:16,r:566,b:503},rows:coloradoStations,radius:depthR(.48),color:corrC,borders:[coloradoBorder,coloradoIsland],
  xlim:[-109.30,-104.276],ylim:COLO_Y,lonTicks:coloradoLonTicks,latTicks:coloradoLatTicks,lonLabel:west,lonFont:12.6,lonPad:1,latFont:12.6,latX:124.5,latOff:4,
  arrow:{x:162,tip:57.5,bottom:127,n:137,font:16},letter:{text:"(a)",x:545,y:32}});
makeMap({frame:{l:741,t:16,r:1172,b:503},rows:coloradoStations,radius:maeR(1),color:r=>cmap(r[5],47.4,.92),borders:[coloradoBorder,coloradoIsland],
  xlim:[-109.28,-104.28],ylim:COLO_Y,lonTicks:coloradoLonTicks,latTicks:coloradoLatTicks,lonLabel:west,lonFont:12.6,lonPad:1,latFont:12.6,latX:729,latOff:4,
  arrow:{x:767,tip:57.5,bottom:127,n:137,font:16},letter:{text:"(b)",x:1147,y:32}});
makeMap({frame:{l:37,t:533,r:640,b:897},rows:alpsStations,radius:depthR(.52),color:corrC,borders:[alpsBorder],
  xlim:[4.408,16.676],ylim:[43.241,48.392],lonTicks:alpsLonTicks,latTicks:alpsLatTicks,lonLabel:east,lonFont:15,lonPad:2,latFont:15.5,latX:21.5,latOff:5,
  arrow:{x:72,tip:565.5,bottom:611.5,n:623,font:19},letter:{text:"(c)",x:623,y:549}});
makeMap({frame:{l:676,t:532,r:1284,b:898},rows:alpsStations,radius:maeR(1.12),color:r=>cmap(r[5],126,.92),borders:[alpsBorder],
  xlim:[4.427,16.665],ylim:[43.237,48.395],lonTicks:alpsLonTicks,latTicks:alpsLatTicks,lonLabel:east,lonFont:15,lonPad:2,latFont:15.5,latX:662,latOff:5,
  arrow:{x:712.5,tip:565,bottom:611,n:622,font:19},letter:{text:"(d)",x:1264,y:549}});
makeMap({frame:{l:117,t:930,r:557,b:1382},rows:kashmirStations,radius:depthR(.47),color:corrC,borders:[kashmirBorder],
  xlim:[72.12,80.74],ylim:[30.087,37.425],lonTicks:kashmirLonTicks,latTicks:kashmirLatTicks,lonLabel:east,lonFont:11.5,lonPad:0,latFont:11.2,latX:104.5,latOff:1,
  arrow:{x:142.5,tip:969,bottom:1033,n:1042,font:15},letter:{text:"(e)",x:534,y:948}});
makeMap({frame:{l:729,t:930,r:1168,b:1380},rows:kashmirStations,radius:maeR(1),color:r=>cmap(r[5],242,.92),borders:[kashmirBorder],
  xlim:[72.123,80.756],ylim:[30.079,37.42],lonTicks:kashmirLonTicks,latTicks:kashmirLatTicks,lonLabel:east,lonFont:11.5,lonPad:0,latFont:11.2,latX:717.5,latOff:1,
  arrow:{x:755,tip:969,bottom:1033,n:1042,font:15},letter:{text:"(f)",x:1148,y:948}});

const CORR_TITLE = "Correlation (Insitu vs Predicted)";
makeColorbar({bar:{l:596,t:16,r:611,b:314},vmax:1,ticks:corrTicks,dec:2,font:10.5,pad:1,title:CORR_TITLE,titleFont:12.8,titleX:656});
makeColorbar({bar:{l:1194,t:16,r:1208,b:291},vmax:47.4,ticks:biasTicksB,dec:0,font:10,pad:2,title:"Bias (cm)",titleFont:12,titleX:1240});
makeColorbar({bar:{l:575,t:691,r:585,b:887},vmax:1,ticks:corrTicks,dec:2,font:6.5,pad:1,title:CORR_TITLE,titleFont:8,titleX:615});
makeColorbar({bar:{l:1228,t:688,r:1240,b:890},vmax:126,ticks:biasTicksD,dec:0,font:8,pad:2,title:"Bias (cm)",titleFont:8.8,titleX:1260});
makeColorbar({bar:{l:580,t:936,r:595,b:1204},vmax:1,ticks:corrTicks,dec:2,font:9.6,pad:0,title:CORR_TITLE,titleFont:11.5,titleX:634.5});
makeColorbar({bar:{l:1214,t:934,r:1228,b:1196},vmax:242,ticks:biasTicksF,dec:0,font:10,pad:1,title:"Bias (cm)",titleFont:11.4,titleX:1263});

const DEPTH_TITLE = "Avg. Snow Depth (cm)";
makeLegend({l:577,t:359,r:720,b:514,title:DEPTH_TITLE,titleFont:11.9,ty:369,labels:depthLegendA,mx:624,lx:644,font:10.5,
  rows:[397,424,451,478,504.5],dia:[7,9,10,11,12]});
makeLegend({l:1180,t:314,r:1257,b:515,title:"MAE (cm)",titleFont:11.7,ty:323,tx:1218,labels:maeLegendB,mx:1194.5,lx:1214,font:10.5,
  rows:[350,376,402,428,454,480,506],dia:[4,6,7.5,8.5,11,11,11.5]});
makeLegend({l:415,t:735,r:557,b:889,title:DEPTH_TITLE,titleFont:11.9,ty:745,labels:depthLegendC,mx:461,lx:481,font:10.5,
  rows:[772,799,826,852,879],dia:[6.5,8.5,11,12,12.5]});
makeLegend({l:1125,t:716,r:1193,b:892,title:"MAE (cm)",titleFont:10,ty:724,labels:maeLegendD,mx:1138,lx:1154.5,font:9,
  rows:[748,771,793,816,839,861,884],dia:[3,4,6,7,9.5,10.5,10.5]});
makeLegend({l:559,t:1226,r:704,b:1382,title:DEPTH_TITLE,titleFont:12,ty:1236,labels:depthLegendE,mx:606.5,lx:627,font:10.5,
  rows:[1264,1291,1319,1346,1373],dia:[6,7.5,8.5,9.5,11]});
makeLegend({l:1206,t:1205,r:1281,b:1410,title:"MAE (cm)",titleFont:11.4,ty:1214,tx:1243,labels:maeLegendF,mx:1220,lx:1238.5,font:10.5,
  rows:[1241,1266,1291,1316,1342,1367,1392],dia:[4,4.5,5,6.5,8,10,12]});
</script>
</body>
</html>
